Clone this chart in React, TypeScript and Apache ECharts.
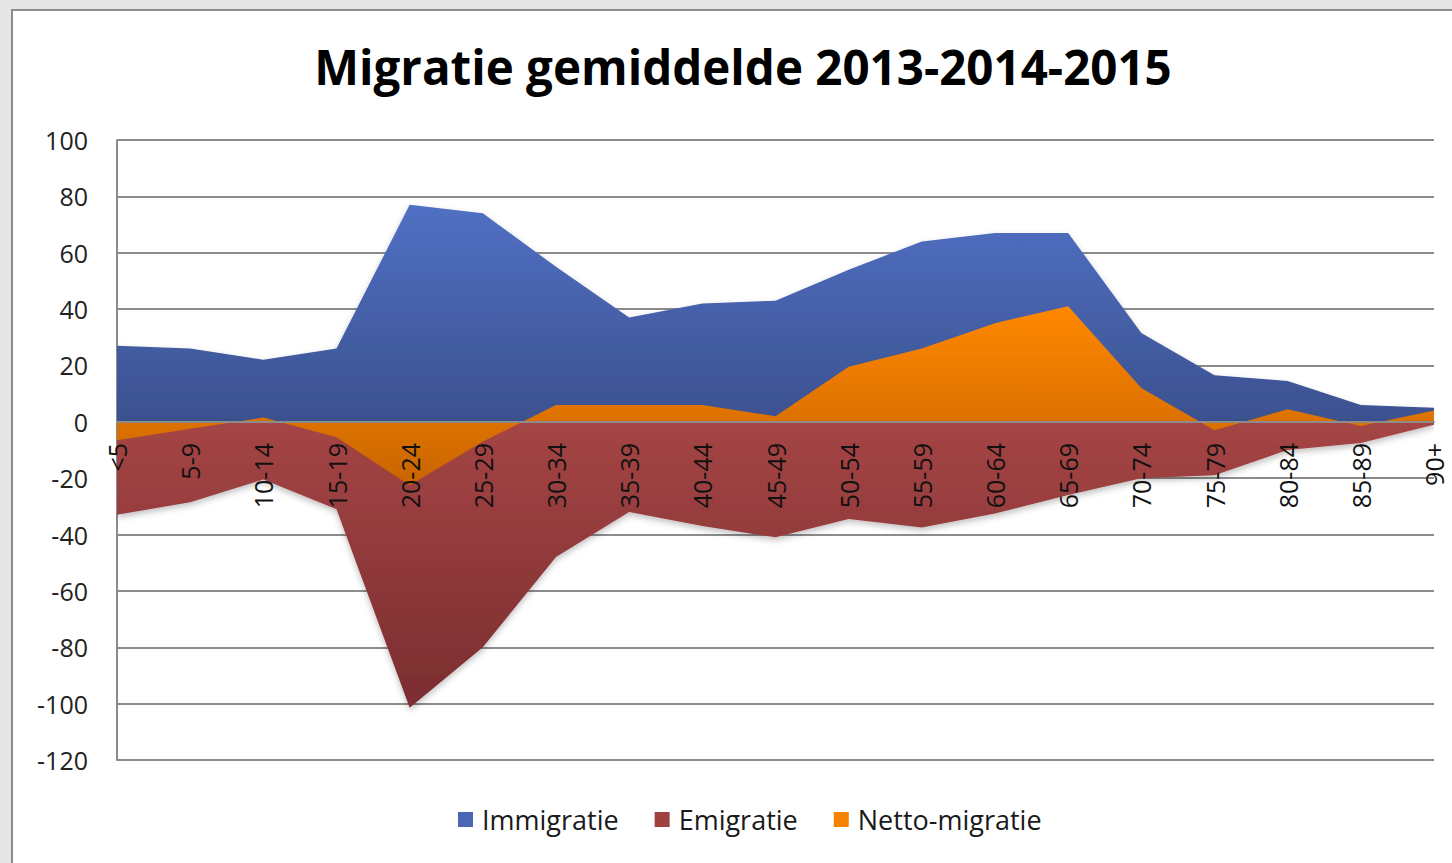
import React, { useEffect, useRef } from "react";
import * as echarts from "echarts";

const categories = ["<5", "5-9", "10-14", "15-19", "20-24", "25-29", "30-34", "35-39", "40-44", "45-49", "50-54", "55-59", "60-64", "65-69", "70-74", "75-79", "80-84", "85-89", "90+"];
const immigratie = [27, 26, 22, 26, 77, 74, 55, 37, 42, 43, 54, 64, 67, 67, 31.5, 16.5, 14.5, 6, 5];
const emigratie = [-33, -28.5, -20.5, -31, -101.5, -80, -48, -32, -37, -41, -34.5, -37.5, -32.5, -26, -20, -19, -10, -7.5, -1];
const netto = [-6.5, -2.5, 1.5, -5.5, -22.5, -7, 6, 6, 6, 2, 19.5, 26, 35, 41, 12, -3, 4.5, -1.5, 4];
const yTicks = { min: -120, max: 100, interval: 20 };

const FONT = "'Open Sans', Lato, 'DejaVu Sans', sans-serif";

function grad(top: string, bottom: string) {
  return new echarts.graphic.LinearGradient(0, 0, 0, 1, [
    { offset: 0, color: top },
    { offset: 1, color: bottom },
  ]);
}

export default function App() {
  const ref = useRef<HTMLDivElement>(null);
  useEffect(() => {
    document.body.style.margin = "0";
    const chart = echarts.init(ref.current!, null, { renderer: "svg" });
    const shadow = { shadowColor: "rgba(0,0,0,0.25)", shadowBlur: 6, shadowOffsetY: 3 };
    const gridTop = 140;
    const gridBottom = 103;
    const plotH = 863 - gridTop - gridBottom;
    const zeroOffset = -Math.round((plotH * (0 - yTicks.min)) / (yTicks.max - yTicks.min));
    chart.setOption({
      animation: false,
      backgroundColor: "#e6e6e6",
      graphic: [
        {
          type: "rect",
          z: -10,
          shape: { x: 12, y: 10, width: 1460, height: 880 },
          style: { fill: "#ffffff", stroke: "#8c8c8c", lineWidth: 2 },
        },
      ],
      title: {
        text: "Migratie gemiddelde 2013-2014-2015",
        left: 738,
        textAlign: "center",
        top: 37,
        textStyle: { fontFamily: FONT, fontSize: 47.5, fontWeight: "bold", color: "#000" },
      },
      legend: {
        bottom: 25,
        left: 453,
        itemWidth: 15,
        itemHeight: 15,
        itemGap: 36,
        icon: "rect",
        textStyle: { fontFamily: FONT, fontSize: 27, color: "#1a1a1a", padding: [0, 0, 0, 4] },
        data: ["Immigratie", "Emigratie", "Netto-migratie"],
      },
      grid: { left: 117, right: 18, top: gridTop, bottom: gridBottom, containLabel: false },
      xAxis: {
        type: "category",
        data: categories,
        boundaryGap: false,
        offset: zeroOffset,
        axisLine: { onZero: false, lineStyle: { color: "#8c8c8c", width: 2 } },
        axisTick: { show: false },
        axisLabel: {
          interval: 0,
          rotate: 90,
          margin: 21,
          fontFamily: FONT,
          fontSize: 25,
          lineHeight: 22,
          color: "#111",
        },
        z: 10,
      },
      yAxis: {
        type: "value",
        min: yTicks.min,
        max: yTicks.max,
        interval: yTicks.interval,
        axisLine: { show: true, lineStyle: { color: "#8c8c8c", width: 2 } },
        axisTick: { show: false },
        splitLine: { lineStyle: { color: "#8c8c8c", width: 2 } },
        axisLabel: { fontFamily: FONT, fontSize: 25, color: "#222", margin: 29 },
      },
      series: [
        {
          name: "Immigratie",
          type: "line",
          data: immigratie,
          symbol: "none",
          lineStyle: { width: 0 },
          itemStyle: { color: "#4a66b5" },
          areaStyle: { color: grad("#5170c4", "#3b518f"), opacity: 1, ...shadow },
        },
        {
          name: "Emigratie",
          type: "line",
          data: emigratie,
          symbol: "none",
          lineStyle: { width: 0 },
          itemStyle: { color: "#a04040" },
          areaStyle: { color: grad("#a54545", "#7a2d2f"), opacity: 1, ...shadow },
        },
        {
          name: "Netto-migratie",
          type: "line",
          data: netto,
          symbol: "none",
          lineStyle: { width: 0 },
          itemStyle: { color: "#f58200" },
          areaStyle: { color: grad("#ff8800", "#c96500"), opacity: 1 },
        },
      ],
    });
    return () => chart.dispose();
  }, []);
  return <div ref={ref} style={{ width: 1452, height: 863 }} />;
}
